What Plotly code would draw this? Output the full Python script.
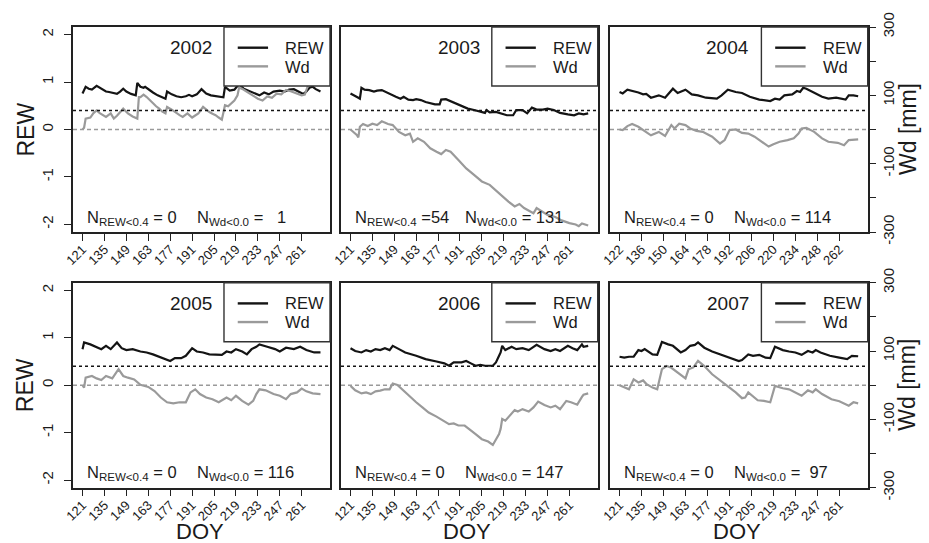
import plotly.graph_objects as go

W, H = 929, 543
FONT = "Liberation Sans, Arial, sans-serif"

years = [2002, 2003, 2004, 2005, 2006, 2007]
n_rew = [0, 54, 0, 0, 0, 0]
n_wd = [1, 131, 114, 116, 147, 97]
doy_ticks_normal = [121, 135, 149, 163, 177, 191, 205, 219, 233, 247, 261]
doy_ticks_leap = [122, 136, 150, 164, 178, 192, 206, 220, 234, 248, 262]
rew_ticks = [-2, -1, 0, 1, 2]
wd_label_ticks = [-300, -100, 100, 300]
wd_minor_ticks = [-200, 0, 200]

# ---- 2002 ----
rew_doy_2002 = [121, 123, 125, 127, 130, 133, 136, 138, 141, 143, 145, 147, 149, 152, 155, 156, 158, 160, 161, 164,
                166, 169, 172, 174, 175, 178, 181, 184, 187, 189, 191, 194, 197, 200, 203, 206, 209, 211, 212, 215,
                218, 221, 224, 227, 230, 234, 237, 240, 243, 247, 250, 253, 256, 259, 262, 264, 266, 268, 270, 273]
rew_2002 = [0.76, 0.90, 0.86, 0.84, 0.92, 0.86, 0.80, 0.79, 0.77, 0.75, 0.80, 0.86, 0.80, 0.75, 0.72, 0.98, 0.90, 0.88, 0.90, 0.82,
            0.78, 0.72, 0.67, 0.65, 0.80, 0.74, 0.70, 0.68, 0.70, 0.73, 0.70, 0.74, 0.85, 0.76, 0.72, 0.70, 0.68, 0.68, 0.90, 0.82,
            0.84, 0.96, 0.86, 0.82, 0.78, 0.72, 0.78, 0.74, 0.80, 0.82, 0.80, 0.84, 0.85, 0.80, 0.75, 0.80, 0.88, 0.90, 0.85, 0.80]
wd_doy_2002 = [121, 122, 123, 126, 128, 130, 132, 134, 136, 139, 141, 143, 145, 147, 150, 153, 156, 157, 158, 160,
               162, 165, 168, 170, 172, 174, 175, 178, 180, 183, 185, 188, 191, 193, 195, 198, 200, 202, 204, 206,
               208, 210, 211, 212, 214, 216, 218, 220, 221, 223, 226, 230, 233, 236, 239, 242, 245, 248, 251, 254,
               258, 261, 263, 265, 267, 270, 273]
wd_2002 = [0, 5, 32, 35, 48, 56, 48, 42, 37, 47, 32, 40, 51, 61, 47, 38, 32, 95, 95, 102,
           95, 80, 68, 61, 52, 47, 66, 58, 51, 42, 37, 47, 35, 40, 47, 66, 58, 51, 46, 42,
           35, 29, 50, 71, 68, 76, 85, 100, 122, 119, 110, 100, 90, 85, 97, 93, 105, 103, 116, 112,
           105, 100, 102, 129, 141, 139, 132]

# ---- 2003 ----
rew_doy_2003 = [121, 123, 126, 127, 128, 130, 133, 136, 138, 141, 144, 147, 150, 153, 155, 158, 161, 163, 166, 169,
                172, 175, 178, 179, 182, 185, 188, 192, 196, 200, 204, 207, 208, 210, 214, 217, 221, 225, 227, 231,
                234, 237, 240, 244, 247, 251, 255, 260, 264, 267, 270, 273]
rew_2003 = [0.76, 0.73, 0.67, 0.65, 0.88, 0.84, 0.83, 0.80, 0.82, 0.83, 0.78, 0.74, 0.69, 0.65, 0.69, 0.63, 0.62, 0.64, 0.62, 0.58,
            0.55, 0.53, 0.53, 0.63, 0.64, 0.60, 0.55, 0.49, 0.44, 0.41, 0.37, 0.35, 0.41, 0.36, 0.37, 0.34, 0.30, 0.30, 0.41, 0.41,
            0.34, 0.46, 0.42, 0.42, 0.44, 0.41, 0.35, 0.32, 0.30, 0.34, 0.32, 0.34]
wd_doy_2003 = [121, 123, 125, 126, 127, 129, 132, 135, 138, 141, 145, 148, 152, 156, 159, 161, 164, 168, 172, 176,
               179, 182, 185, 190, 195, 200, 205, 210, 213, 218, 222, 226, 229, 232, 235, 238, 240, 244, 247, 252,
               256, 261, 265, 267, 269, 273]
wd_2003 = [0, -7, -16, -23, 8, 16, 10, 17, 13, 24, 16, 13, -7, -17, -12, -36, -26, -36, -55, -65,
           -72, -60, -65, -89, -114, -133, -152, -162, -175, -196, -211, -225, -218, -230, -237, -245, -230, -240, -250, -256,
           -266, -274, -278, -283, -275, -281]

# ---- 2004 ----
rew_doy_2004 = [122, 124, 127, 130, 134, 137, 139, 142, 147, 151, 156, 159, 164, 168, 172, 177, 184, 187, 191, 196,
                200, 205, 211, 218, 221, 224, 227, 232, 235, 237, 239, 241, 246, 251, 255, 260, 266, 268, 271, 274]
rew_2004 = [0.79, 0.76, 0.84, 0.82, 0.78, 0.74, 0.75, 0.67, 0.72, 0.67, 0.86, 0.77, 0.84, 0.74, 0.72, 0.67, 0.65, 0.72, 0.84, 0.79,
            0.77, 0.69, 0.63, 0.60, 0.65, 0.63, 0.72, 0.74, 0.81, 0.79, 0.88, 0.86, 0.77, 0.69, 0.65, 0.67, 0.63, 0.72, 0.72, 0.70]
wd_doy_2004 = [122, 124, 127, 130, 134, 138, 142, 147, 151, 155, 157, 160, 164, 167, 171, 175, 181, 186, 189, 192,
               196, 200, 204, 208, 213, 217, 220, 224, 229, 233, 236, 238, 241, 246, 251, 255, 261, 265, 268, 271, 274]
wd_2004 = [0, -2, 10, 16, 8, -5, -17, -7, -19, 13, 3, 17, 13, 3, -4, -7, -21, -41, -31, -2,
           0, -10, -12, -21, -36, -50, -43, -36, -31, -26, -12, 3, 5, -7, -26, -36, -39, -46, -31, -29, -29]

# ---- 2005 ----
rew_doy_2005 = [121, 122, 126, 130, 133, 136, 139, 143, 146, 149, 153, 158, 162, 166, 170, 175, 177, 180, 184, 187,
                191, 194, 198, 202, 207, 210, 213, 216, 219, 223, 226, 229, 232, 234, 239, 244, 247, 251, 256, 260,
                264, 269, 273]
rew_2005 = [0.76, 0.90, 0.86, 0.81, 0.76, 0.83, 0.76, 0.90, 0.78, 0.74, 0.76, 0.71, 0.69, 0.65, 0.60, 0.53, 0.51, 0.57, 0.57, 0.62,
            0.78, 0.71, 0.69, 0.65, 0.65, 0.64, 0.71, 0.69, 0.76, 0.71, 0.65, 0.76, 0.81, 0.86, 0.81, 0.76, 0.71, 0.79, 0.76, 0.81,
            0.74, 0.69, 0.69]
wd_doy_2005 = [121, 122, 123, 127, 130, 133, 136, 140, 144, 147, 150, 154, 158, 163, 167, 171, 175, 179, 183, 187,
               190, 193, 196, 200, 204, 208, 213, 216, 219, 223, 227, 230, 232, 234, 238, 243, 247, 251, 254, 258,
               261, 264, 268, 273]
wd_2005 = [0, -7, 22, 27, 20, 15, 27, 20, 47, 27, 22, 17, 1, -5, -17, -36, -50, -53, -50, -50,
           -21, -12, -26, -36, -41, -50, -36, -44, -31, -46, -57, -46, -26, -12, -15, -26, -31, -41, -26, -21,
           -10, -18, -24, -26]

# ---- 2006 ----
rew_doy_2006 = [121, 124, 128, 131, 134, 137, 140, 143, 146, 148, 152, 156, 163, 169, 176, 181, 184, 187, 192, 195,
                198, 201, 204, 207, 212, 214, 216, 217, 218, 220, 224, 227, 231, 235, 240, 245, 249, 252, 255, 260,
                263, 266, 269, 270, 273]
rew_2006 = [0.78, 0.72, 0.69, 0.74, 0.71, 0.76, 0.74, 0.78, 0.74, 0.83, 0.76, 0.69, 0.62, 0.55, 0.50, 0.46, 0.41, 0.48, 0.48, 0.51,
            0.46, 0.41, 0.43, 0.41, 0.41, 0.48, 0.62, 0.69, 0.83, 0.74, 0.81, 0.76, 0.78, 0.74, 0.85, 0.76, 0.72, 0.76, 0.72, 0.83,
            0.78, 0.74, 0.86, 0.81, 0.83]
wd_doy_2006 = [121, 124, 128, 131, 134, 137, 140, 143, 146, 148, 151, 154, 159, 163, 167, 171, 176, 180, 184, 187,
               190, 194, 197, 201, 205, 209, 212, 213, 216, 217, 218, 220, 224, 226, 228, 231, 235, 238, 241, 245,
               249, 252, 255, 259, 262, 266, 269, 270, 273]
wd_2006 = [-2, -15, -24, -21, -26, -18, -16, -12, -12, 5, 1, -12, -31, -50, -65, -80, -92, -104, -114, -112,
           -118, -118, -128, -143, -158, -165, -175, -167, -143, -128, -99, -104, -84, -73, -77, -70, -77, -65, -48, -58,
           -65, -60, -70, -46, -50, -57, -34, -28, -24]

# ---- 2007 ----
rew_doy_2007 = [121, 124, 127, 130, 133, 135, 137, 139, 142, 145, 148, 152, 155, 160, 163, 166, 169, 171, 175, 180,
                187, 193, 197, 199, 203, 206, 210, 214, 217, 220, 225, 229, 233, 237, 241, 244, 246, 249, 255, 261,
                266, 269, 273]
rew_2007 = [0.60, 0.58, 0.60, 0.60, 0.74, 0.72, 0.76, 0.71, 0.65, 0.64, 0.91, 0.86, 0.83, 0.69, 0.74, 0.83, 0.85, 0.90, 0.79, 0.71,
            0.63, 0.57, 0.51, 0.53, 0.65, 0.62, 0.64, 0.58, 0.57, 0.81, 0.74, 0.71, 0.69, 0.64, 0.72, 0.69, 0.74, 0.69, 0.62, 0.58,
            0.55, 0.62, 0.61]
wd_doy_2007 = [121, 124, 127, 130, 133, 136, 138, 142, 145, 148, 151, 154, 159, 163, 165, 168, 171, 175, 180, 187,
               191, 195, 199, 201, 203, 207, 209, 213, 217, 220, 225, 229, 233, 237, 241, 244, 246, 250, 256, 261,
               267, 270, 273]
wd_2007 = [0, -5, -12, 17, 8, 14, 4, -7, -12, 47, 56, 51, 34, 20, 47, 52, 71, 56, 32, 8,
           -7, -21, -38, -36, -21, -36, -44, -46, -50, -2, -9, -12, -21, -31, -15, -21, -12, -26, -41, -47,
           -60, -50, -53]

rew_doys = [rew_doy_2002, rew_doy_2003, rew_doy_2004, rew_doy_2005, rew_doy_2006, rew_doy_2007]
rews = [rew_2002, rew_2003, rew_2004, rew_2005, rew_2006, rew_2007]
wd_doys = [wd_doy_2002, wd_doy_2003, wd_doy_2004, wd_doy_2005, wd_doy_2006, wd_doy_2007]
wds = [wd_2002, wd_2003, wd_2004, wd_2005, wd_2006, wd_2007]

# layout geometry (pixels)
col_px = [(73, 330), (341, 597.7), (610, 867.7)]
row_px = [(27, 232), (282.7, 487.7)]

BLACK = "#141414"
GRAY = "#9a9a9a"
EDGE = "#222222"
TXT = "#1a1a1a"

fig = go.Figure()
layout = dict(width=W, height=H, margin=dict(l=0, r=0, t=0, b=0, pad=0, autoexpand=False), autosize=False,
              paper_bgcolor="white", plot_bgcolor="white", showlegend=False,
              font=dict(family=FONT, color=TXT))
shapes = []
annotations = []

for i, yr in enumerate(years):
    r, c = divmod(i, 3)
    k = i + 1
    xname = "x" if k == 1 else f"x{k}"
    yname = "y" if k == 1 else f"y{k}"
    y2name = f"y{k + 6}"
    xkey = "xaxis" if k == 1 else f"xaxis{k}"
    ykey = "yaxis" if k == 1 else f"yaxis{k}"
    y2key = f"yaxis{k + 6}"

    x0p, x1p = col_px[c]
    t, b = row_px[r]
    xdom = [x0p / W, x1p / W]
    ydom = [1 - b / H, 1 - t / H]

    dmin = min(rew_doys[i] + wd_doys[i])
    dmax = max(rew_doys[i] + wd_doys[i])
    pad = 0.04 * (dmax - dmin)
    ticks = doy_ticks_leap if yr % 4 == 0 else doy_ticks_normal

    layout[xkey] = dict(domain=xdom, anchor=yname, range=[dmin - pad, dmax + pad], automargin=False,
                        tickmode="array", tickvals=ticks, ticktext=[str(v) for v in ticks], tickangle=-45,
                        ticks="outside", ticklen=7, tickwidth=1.2, tickcolor=EDGE, ticklabelstandoff=-4,
                        showline=True, mirror=True, linecolor=EDGE, linewidth=1.5,
                        showgrid=False, zeroline=False,
                        tickfont=dict(size=13, family=FONT, color=TXT))
    left = (c == 0)
    ycfg = dict(domain=ydom, anchor=xname, range=[-2.16, 2.16], automargin=False,
                showline=True, mirror=True, linecolor=EDGE, linewidth=1.5,
                showgrid=False, zeroline=False)
    if left:
        ycfg.update(tickmode="array", tickvals=rew_ticks, ticktext=[str(v) for v in rew_ticks],
                    ticks="outside", ticklen=7, tickwidth=1.2, tickcolor=EDGE, tickangle=-90,
                    ticklabelstandoff=5, tickfont=dict(size=15, family=FONT, color=TXT))
    else:
        ycfg.update(showticklabels=False, ticks="")
    layout[ykey] = ycfg

    right = (c == 2)
    y2cfg = dict(overlaying=yname, anchor=xname, side="right", range=[-300, 300], automargin=False,
                 showline=False, showgrid=False, zeroline=False)
    if right:
        y2cfg.update(tickmode="array", tickvals=wd_label_ticks, ticktext=[str(v) for v in wd_label_ticks],
                     ticks="outside", ticklen=7, tickwidth=1.2, tickcolor=EDGE, tickangle=-90,
                     minor=dict(tickmode="array", tickvals=wd_minor_ticks, ticks="outside", ticklen=7,
                                tickwidth=1.2, tickcolor=EDGE, showgrid=False),
                     tickfont=dict(size=15, family=FONT, color=TXT))
    else:
        y2cfg.update(showticklabels=False, ticks="")
    layout[y2key] = y2cfg

    fig.add_trace(go.Scatter(x=wd_doys[i], y=wds[i], mode="lines", xaxis=xname, yaxis=y2name,
                             line=dict(color=GRAY, width=2.2), hoverinfo="skip"))
    fig.add_trace(go.Scatter(x=rew_doys[i], y=rews[i], mode="lines", xaxis=xname, yaxis=yname,
                             line=dict(color=BLACK, width=2.2), hoverinfo="skip"))

    # reference lines
    shapes.append(dict(type="line", xref=f"{xname} domain", yref=yname, x0=0, x1=1, y0=0.4, y1=0.4,
                       line=dict(color=BLACK, width=1.6, dash="3px,3px"), layer="above"))
    shapes.append(dict(type="line", xref=f"{xname} domain", yref=yname, x0=0, x1=1, y0=0, y1=0,
                       line=dict(color=GRAY, width=1.6, dash="4px,3px"), layer="above"))
    # legend box
    shapes.append(dict(type="rect", xref=f"{xname} domain", yref=f"{yname} domain",
                       x0=0.5875, x1=1, y0=0.712, y1=1, fillcolor="white",
                       line=dict(color="#333333", width=1.4), layer="above"))
    shapes.append(dict(type="line", xref=f"{xname} domain", yref=f"{yname} domain",
                       x0=0.641, x1=0.759, y0=0.899, y1=0.899,
                       line=dict(color=BLACK, width=2.4), layer="above"))
    shapes.append(dict(type="line", xref=f"{xname} domain", yref=f"{yname} domain",
                       x0=0.641, x1=0.759, y0=0.808, y1=0.808,
                       line=dict(color=GRAY, width=2.4), layer="above"))

    ann_font = dict(family=FONT, size=16.5, color=TXT)
    annotations += [
        dict(text="REW", xref=f"{xname} domain", yref=f"{yname} domain", x=0.818, y=0.899,
             xanchor="left", yanchor="middle", showarrow=False, font=ann_font),
        dict(text="Wd", xref=f"{xname} domain", yref=f"{yname} domain", x=0.818, y=0.806,
             xanchor="left", yanchor="middle", showarrow=False, font=ann_font),
        dict(text=str(yr), xref=f"{xname} domain", yref=f"{yname} domain", x=0.548, y=0.899,
             xanchor="right", yanchor="middle", showarrow=False, font=dict(family=FONT, size=19, color=TXT)),
        dict(text="N<sub>REW&lt;0.4</sub> =" + f"{n_rew[i]:>2d}".replace(" ", "\u00a0"),
             xref=f"{xname} domain", yref=f"{yname} domain", x=0.045, y=0.07,
             xanchor="left", yanchor="middle", showarrow=False, font=ann_font),
        dict(text="N<sub>Wd&lt;0.0</sub> = " + f"{n_wd[i]:>3d}".replace(" ", "\u00a0"),
             xref=f"{xname} domain", yref=f"{yname} domain", x=0.475, y=0.07,
             xanchor="left", yanchor="middle", showarrow=False, font=ann_font),
    ]

# axis titles
for r in range(2):
    t, b = row_px[r]
    yc = 1 - ((t + b) / 2) / H
    annotations.append(dict(text="REW", xref="paper", yref="paper", x=25 / W, y=yc,
                            xanchor="center", yanchor="middle", textangle=-90, showarrow=False,
                            font=dict(family=FONT, size=23, color=TXT)))
    annotations.append(dict(text="Wd [mm]", xref="paper", yref="paper", x=907.5 / W, y=yc,
                            xanchor="center", yanchor="middle", textangle=-90, showarrow=False,
                            font=dict(family=FONT, size=23, color=TXT)))
for c in range(3):
    x0p, x1p = col_px[c]
    annotations.append(dict(text="DOY", xref="paper", yref="paper", x=((x0p + x1p) / 2 - 2) / W, y=1 - 531.5 / H,
                            xanchor="center", yanchor="middle", showarrow=False,
                            font=dict(family=FONT, size=22, color=TXT)))

layout["shapes"] = shapes
layout["annotations"] = annotations
fig.update_layout(**layout)
fig.write_html("out.html")
